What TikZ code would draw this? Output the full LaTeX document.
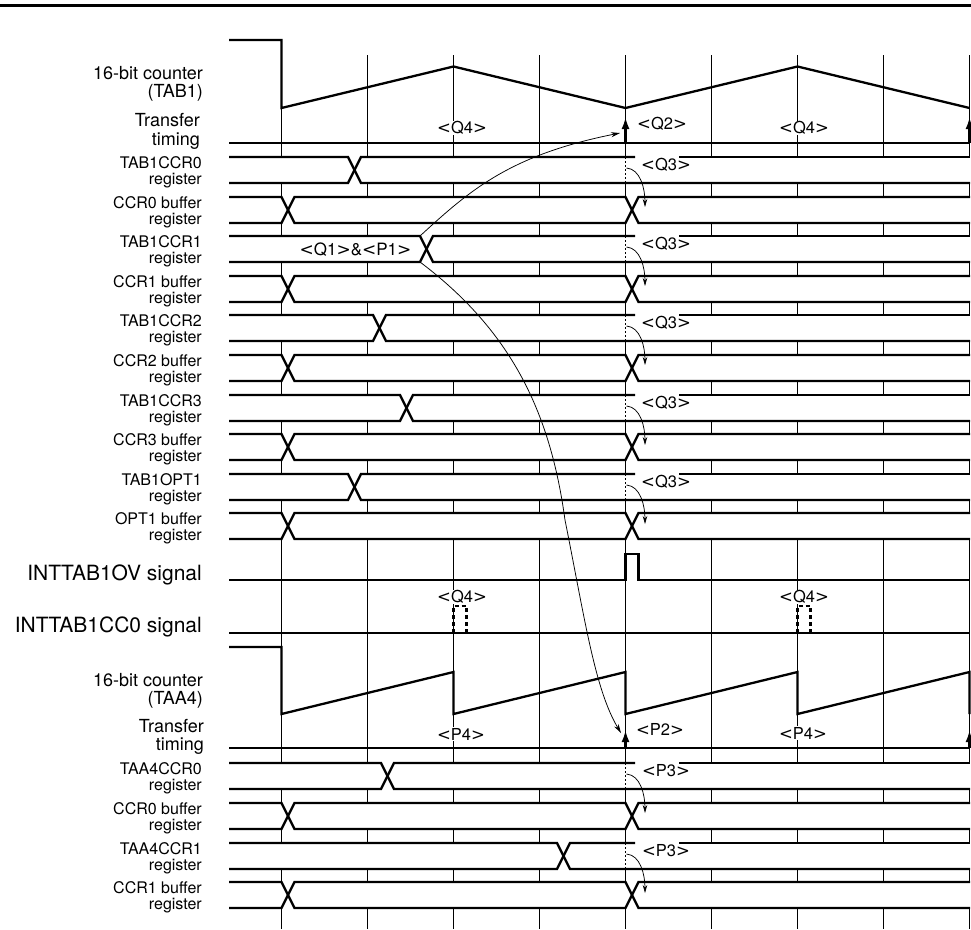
\documentclass[tikz,border=0pt]{standalone}
\usepackage{fontspec}
\setmainfont{TeX Gyre Heros}
\newfontfamily\symfont{DejaVu Sans}
\usetikzlibrary{arrows.meta}
\newcommand\ltsym{{\symfont<}}
\newcommand\gtsym{{\symfont>}}
\newcommand\wlbl[1]{\ltsym#1\gtsym}
\newcommand\regq[5]{% #1 id, #2 top, #3 crossing x, #4 name, #5 label
  \pgfmathsetmacro\myrt{#2}\pgfmathsetmacro\myrb{#2+26}\pgfmathsetmacro\myrx{#3+13}
  \draw[wave] (229,\myrt) -- (#3,\myrt) -- (\myrx,\myrb) -- (970,\myrb);
  \draw[wave] (229,\myrb) -- (#3,\myrb) -- (\myrx,\myrt) -- (635,\myrt);
  \draw[wave] (679,\myrt) -- (970,\myrt);
  \draw[dashln] (625.5,\myrt) -- (625.5,\myrb);
  \node[lbl, fill=none] (#1q) at (666,{\myrt+8}) {\wlbl{#5}};
  \coordinate (#1s) at (626.5,{\myrt+11});
  \coordinate (#1e) at (645,{\myrb+24});
  \draw[smallarrow] (#1s) .. controls +(14,1) and +(0,-18) .. (#1e);
  \node[regfont, anchor=base east] (#1n) at (202,{\myrt+11}) {#4};
  \node[regfont, anchor=base east] (#1r) at (202,{\myrb+1}) {register};
}
\newcommand\bufrow[3]{% #1 id, #2 top, #3 name
  \pgfmathsetmacro\myrt{#2}\pgfmathsetmacro\myrb{#2+26}
  \draw[wave] (229,\myrt) -- (281.5,\myrt) -- (294.5,\myrb) -- (625.5,\myrb) -- (638.5,\myrt) -- (970,\myrt);
  \draw[wave] (229,\myrb) -- (281.5,\myrb) -- (294.5,\myrt) -- (625.5,\myrt) -- (638.5,\myrb) -- (970,\myrb);
  \node[regfont, anchor=base east] (#1n) at (202,{\myrt+11}) {#3};
  \node[regfont, anchor=base east] (#1r) at (202,{\myrb+1}) {register};
}
\begin{document}
\begin{tikzpicture}[x=1pt,y=-1pt,
  wave/.style={line width=2.3pt, line join=miter},
  gridln/.style={line width=0.8pt},
  dashln/.style={line width=0.8pt, dash pattern=on 2pt off 2pt},
  regfont/.style={font=\fontsize{16}{16}\selectfont, inner sep=0pt},
  cntfont/.style={font=\fontsize{18}{18}\selectfont, inner sep=0pt},
  sigfont/.style={font=\fontsize{21}{21}\selectfont, inner sep=0pt},
  lbl/.style={font=\fontsize{16.5}{16.5}\selectfont, inner sep=0.8pt, fill=white},
  xferarrow/.style={line width=2.3pt, -{Latex[length=12pt,width=8pt]}},
  thinarrow/.style={line width=0.75pt, -{Stealth[length=9pt,width=5pt]}},
  smallarrow/.style={line width=0.75pt, -{Stealth[length=8pt,width=4.5pt]}},
]
\useasboundingbox (0,0) rectangle (971,929);
\fill[white] (0,0) rectangle (971,929);
% top rule
\draw[line width=3pt] (0,5.5) -- (971,5.5);
% grid
\foreach \k in {0,...,8} {
  \pgfmathsetmacro\gx{281.5+86*\k}
  \draw[gridln] (\gx,55) -- (\gx,929);
}
% bus fills
\foreach \t in {157,197,236,276,315,355,395,434,474,513,763,803,843,882}
  \fill[white] (229,\t) rectangle (970,{\t+26});

% ---- TAB1 section ----
\node[cntfont, anchor=base east] (cA1) at (203,79) {16-bit counter};
\node[cntfont, anchor=base east] (cA2) at (203,97) {(TAB1)};
\draw[wave] (229,40) -- (281.5,40) -- (281.5,108) -- (453.5,66.5) -- (625.5,108) -- (797.5,66.5) -- (969.5,108);
\node[cntfont, anchor=base east] (tA1) at (200,126) {Transfer};
\node[cntfont, anchor=base east] (tA2) at (200,145) {timing};
\draw[wave] (229,143) -- (970,143);
\draw[xferarrow] (625.5,143) -- (625.5,117);
\draw[xferarrow] (969.5,143) -- (969.5,117);
\node[lbl] (q4a) at (462,128) {\wlbl{Q4}};
\node[lbl] (q4b) at (804,128) {\wlbl{Q4}};
\node[lbl, fill=none] (q2) at (662,124) {\wlbl{Q2}};

\regq{ra}{157}{348}{TAB1CCR0}{Q3}
\bufrow{ba}{197}{CCR0 buffer}
\regq{rb}{236}{420}{TAB1CCR1}{Q3}
\bufrow{bb}{276}{CCR1 buffer}
\regq{rc}{315}{373}{TAB1CCR2}{Q3}
\bufrow{bc}{355}{CCR2 buffer}
\regq{rd}{395}{400}{TAB1CCR3}{Q3}
\bufrow{bd}{434}{CCR3 buffer}
\regq{re}{474}{348}{TAB1OPT1}{Q3}
\bufrow{be}{513}{OPT1 buffer}

\node[lbl, font=\fontsize{17}{17}\selectfont] (q1p1) at (355.5,249.5) {\wlbl{Q1}\&\wlbl{P1}};

% INTTAB1OV
\node[sigfont, anchor=base east] (ov) at (202,580) {INTTAB1OV signal};
\draw[wave] (229,580) -- (625.5,580) -- (625.5,554) -- (638.5,554) -- (638.5,580) -- (970,580);
% INTTAB1CC0
\node[sigfont, anchor=base east] (cc0) at (202,632) {INTTAB1CC0 signal};
\draw[wave] (229,633) -- (970,633);
\draw[wave, dash pattern=on 4pt off 3pt] (453.5,633) -- (453.5,606) -- (466.5,606) -- (466.5,633);
\draw[wave, dash pattern=on 4pt off 3pt] (797.5,633) -- (797.5,606) -- (810.5,606) -- (810.5,633);
\node[lbl] (q4c) at (462,597) {\wlbl{Q4}};
\node[lbl] (q4d) at (804,597) {\wlbl{Q4}};

% ---- TAA4 section ----
\node[cntfont, anchor=base east] (cB1) at (203,686) {16-bit counter};
\node[cntfont, anchor=base east] (cB2) at (203,704) {(TAA4)};
\draw[wave] (229,647) -- (281.5,647) -- (281.5,714) -- (453.5,672) -- (453.5,714) -- (625.5,672) -- (625.5,714) -- (797.5,672) -- (797.5,714) -- (969.5,672) -- (969.5,714);
\node[cntfont, anchor=base east] (tB1) at (204,732) {Transfer};
\node[cntfont, anchor=base east] (tB2) at (204,750) {timing};
\draw[wave] (229,748) -- (970,748);
\draw[xferarrow] (625.5,748) -- (625.5,730);
\draw[xferarrow] (969.5,748) -- (969.5,730);
\node[lbl] (p4a) at (461,734) {\wlbl{P4}};
\node[lbl] (p4b) at (803,733) {\wlbl{P4}};
\node[lbl, fill=none] (p2) at (660,729) {\wlbl{P2}};

\regq{rf}{763}{381}{TAA4CCR0}{P3}
\bufrow{bf}{803}{CCR0 buffer}
\regq{rg}{843}{557}{TAA4CCR1}{P3}
\bufrow{bg}{882}{CCR1 buffer}

% big curved arrows
\coordinate (c1tl) at (420,236);
\coordinate (c1bl) at (420,262);
\coordinate (q2tip) at (620,133);
\coordinate (p2tip) at (621,733);
\draw[thinarrow] (c1tl) .. controls (470,190) and (510,155) .. (q2tip);
\draw[thinarrow] (c1bl) .. controls (510,330) and (550,410) .. (565,520) .. controls (585,620) and (595,690) .. (p2tip);
\end{tikzpicture}
\end{document}
